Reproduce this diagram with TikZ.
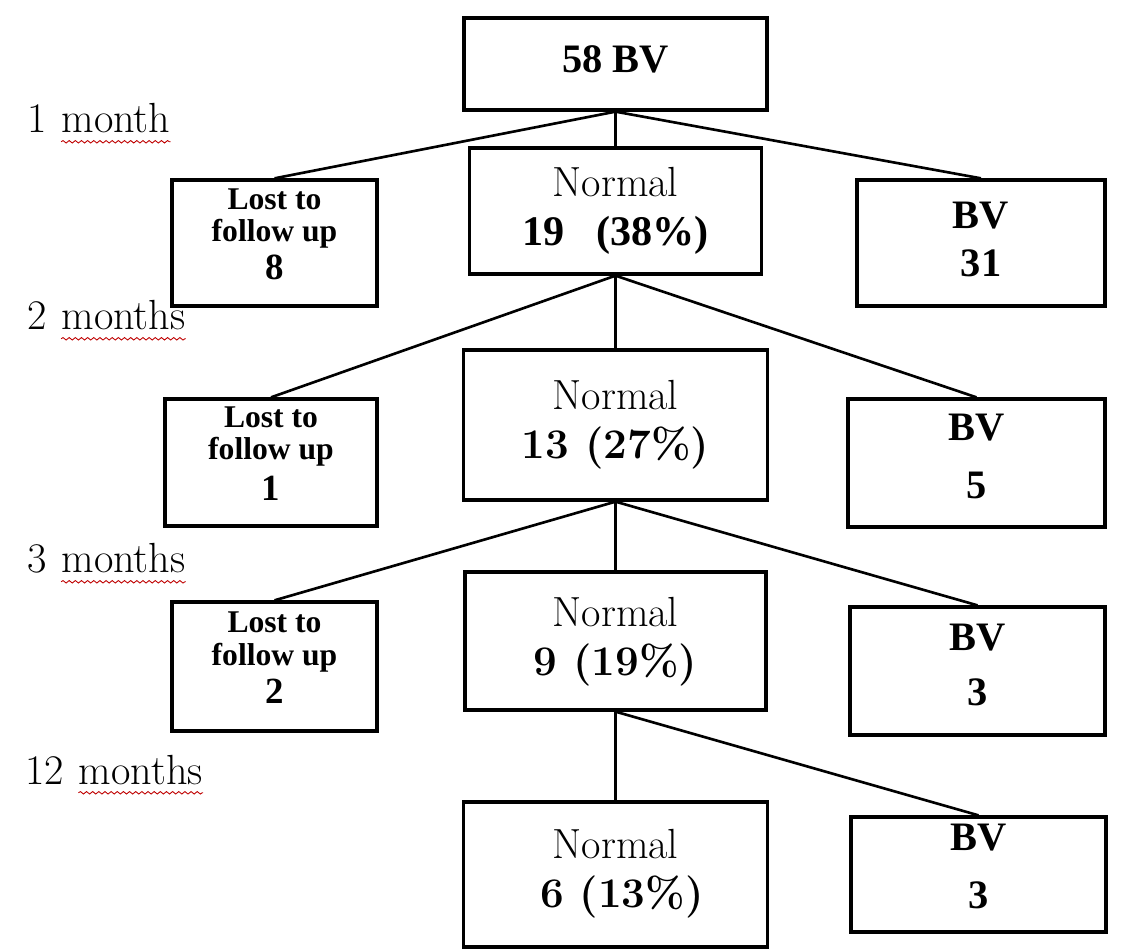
\documentclass[tikz,border=0pt]{standalone}
\usepackage{fontspec}
\setmainfont{Liberation Serif}
\newfontfamily\normfont{Latin Modern Roman}
\usetikzlibrary{positioning,calc,decorations.pathmorphing}

\begin{document}
\begin{tikzpicture}[
  x=0.02cm, y=-0.02cm,
  box/.style={draw, line width=1.9pt, align=center, inner sep=2pt},
  lostbox/.style={box, text depth=10pt, font=\bfseries\fontsize{18}{18.5}\selectfont},
  bvbox/.style={box, font=\bfseries\fontsize{23}{27}\selectfont},
  normbox/.style={box, font=\normfont\fontsize{24}{28}\selectfont},
  link/.style={line width=1.5pt},
  month/.style={anchor=base west, inner sep=0pt, font=\normfont\fontsize{24}{28}\selectfont},
  wavy/.style={red!75!black, line width=0.5pt, decorate, decoration={snake, amplitude=0.7pt, segment length=3.5pt}}
]
\path[use as bounding box, fill=white] (0,0) rectangle (1136,952);

% start
\node[bvbox, minimum width=6.06cm, minimum height=1.84cm, text depth=6pt] (top) at (615.5,64) {58 BV};

% 1 month
\node[lostbox, minimum width=4.1cm, minimum height=2.52cm] (lost1) at (274.5,243) {Lost to\\follow up\\[3pt]{\fontsize{21}{18.5}\selectfont 8}};
\node[normbox, minimum width=5.84cm, minimum height=2.52cm] (norm1) at (615.5,211) {Normal\\{\rmfamily\bfseries 19\ \ \ (38\%)}};
\node[bvbox, minimum width=4.96cm, minimum height=2.52cm, text depth=4pt] (bv1) at (981,243) {BV\\31};

% 2 months
\node[lostbox, minimum width=4.24cm, minimum height=2.54cm] (lost2) at (271,462.5) {Lost to\\follow up\\[5pt]{\fontsize{21}{18.5}\selectfont 1}};
\node[normbox, minimum width=6.08cm, minimum height=3.0cm] (norm2) at (615.5,425) {Normal\\{\bfseries 13 (27\%)}};
\node[bvbox, minimum width=5.14cm, minimum height=2.56cm, text depth=8pt] (bv2) at (976.5,463) {BV\\[6pt]5};

% 3 months
\node[lostbox, minimum width=4.1cm, minimum height=2.58cm] (lost3) at (274.5,666.5) {Lost to\\follow up\\[3pt]{\fontsize{21}{18.5}\selectfont 2}};
\node[normbox, minimum width=6.02cm, minimum height=2.76cm, text depth=5pt] (norm3) at (615.5,641) {Normal\\{\bfseries 9 (19\%)}};
\node[bvbox, minimum width=5.1cm, minimum height=2.56cm, text depth=7pt] (bv3) at (977.5,671) {BV\\[4pt]3};

% 12 months
\node[normbox, minimum width=6.08cm, minimum height=2.9cm, text depth=7pt] (norm4) at (615.5,874.5) {Normal\\\ {\bfseries 6 (13\%)}};
\node[bvbox, minimum width=5.1cm, minimum height=2.3cm, text depth=9pt] (bv4) at (978.5,874.5) {BV\\[6pt]3};

\draw[link] (top.south) -- (lost1.north);
\draw[link] (top.south) -- (norm1.north);
\draw[link] (top.south) -- (bv1.north);
\draw[link] (norm1.south) -- (lost2.north);
\draw[link] (norm1.south) -- (norm2.north);
\draw[link] (norm1.south) -- (bv2.north);
\draw[link] (norm2.south) -- (lost3.north);
\draw[link] (norm2.south) -- (norm3.north);
\draw[link] (norm2.south) -- (bv3.north);
\draw[link] (norm3.south) -- (norm4.north);
\draw[link] (norm3.south) -- (bv4.north);

% time labels
\node[month] (n1) at (27,133) {1};
\node[month, xshift=8pt] (w1) at (n1.base east) {month};
\node[month] (n2) at (27,330) {2};
\node[month, xshift=8pt] (w2) at (n2.base east) {months};
\node[month] (n3) at (27,573) {3};
\node[month, xshift=8pt] (w3) at (n3.base east) {months};
\node[month] (n4) at (25,784) {12};
\node[month, xshift=8pt] (w4) at (n4.base east) {months};
\draw[wavy] ([yshift=-5pt]w1.base west) -- ([yshift=-5pt]w1.base east);
\draw[wavy] ([yshift=-5pt]w2.base west) -- ([yshift=-5pt]w2.base east);
\draw[wavy] ([yshift=-5pt]w3.base west) -- ([yshift=-5pt]w3.base east);
\draw[wavy] ([yshift=-5pt]w4.base west) -- ([yshift=-5pt]w4.base east);
\end{tikzpicture}
\end{document}
